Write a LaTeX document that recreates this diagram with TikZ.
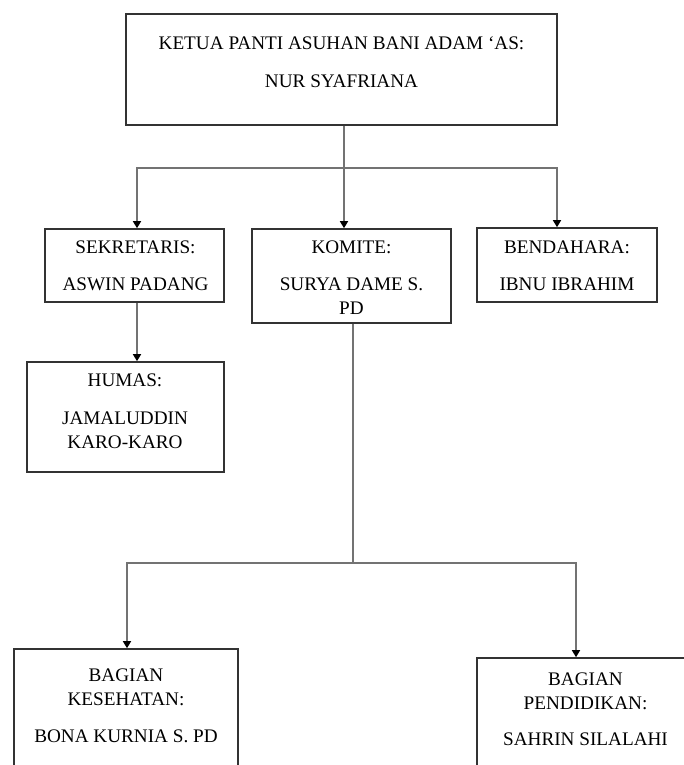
\documentclass[tikz,border=0pt]{standalone}
\usepackage{fontspec}
\setmainfont{Liberation Serif}
\usetikzlibrary{arrows.meta}
\begin{document}
\begin{tikzpicture}[x=1pt,y=-1pt,
  box/.style={draw=black!80, line width=1.6pt, rectangle, inner sep=0pt},
  lbl/.style={align=center, anchor=base, font=\fontsize{19.2}{24}\selectfont, inner sep=0pt, text=black},
  conn/.style={draw=black!55, line width=1.4pt},
  arr/.style={conn, -{Triangle[length=7pt,width=8pt,color=black]}}]
\useasboundingbox (0,0) rectangle (684,765);
\clip (0,0) rectangle (684,765);

% boxes
\node[box, minimum width=431pt, minimum height=111pt] (top) at (341.5,69.5) {};
\node[box, minimum width=179pt, minimum height=73pt] (sek) at (134.5,265.5) {};
\node[box, minimum width=199pt, minimum height=94pt] (kom) at (351.5,276) {};
\node[box, minimum width=180pt, minimum height=74pt] (ben) at (567,265) {};
\node[box, minimum width=197pt, minimum height=110pt] (hum) at (125.5,417) {};
\node[box, minimum width=224pt, minimum height=151pt] (kes) at (126,724.5) {};
\node[box, minimum width=233pt, minimum height=142pt] (pend) at (593.5,729) {};

% labels (anchored at the baseline of the last line)
\node[lbl] (ttop) at (341.5,87.5) {KETUA PANTI ASUHAN BANI ADAM ‘AS:\\[14pt]NUR SYAFRIANA};
\node[lbl] (tsek) at (135.5,290.5) {SEKRETARIS:\\[13pt]ASWIN PADANG};
\node[lbl] (tkom) at (351.5,314.5) {KOMITE:\\[13pt]SURYA DAME S.\\PD};
\node[lbl] (tben) at (567,290.5) {BENDAHARA:\\[13pt]IBNU IBRAHIM};
\node[lbl] (thum) at (125,448.5) {HUMAS:\\[14pt]JAMALUDDIN\\KARO-KARO};
\node[lbl] (tkes) at (126,742.5) {BAGIAN\\KESEHATAN:\\[13pt]BONA KURNIA S. PD};
\node[lbl] (tpend) at (585.5,745.5) {BAGIAN\\PENDIDIKAN:\\[12pt]SAHRIN SILALAHI};

% connectors
\coordinate (j1) at (344,168);
\coordinate (a1) at (137,168);
\coordinate (a3) at (557,168);
\draw[conn] (top.south -| j1) -- (j1);
\draw[arr] (j1) -- (a1) -- (a1 |- sek.north);
\draw[arr] (j1) -- (a3) -- (a3 |- ben.north);
\draw[arr] (j1) -- (j1 |- kom.north);
\draw[arr] (sek.south -| a1) -- (hum.north -| a1);

\coordinate (j2) at (353,563);
\coordinate (b1) at (127,563);
\coordinate (b2) at (576,563);
\draw[conn] (kom.south -| j2) -- (j2);
\draw[arr] (j2) -- (b1) -- (b1 |- kes.north);
\draw[arr] (j2) -- (b2) -- (b2 |- pend.north);
\end{tikzpicture}
\end{document}
